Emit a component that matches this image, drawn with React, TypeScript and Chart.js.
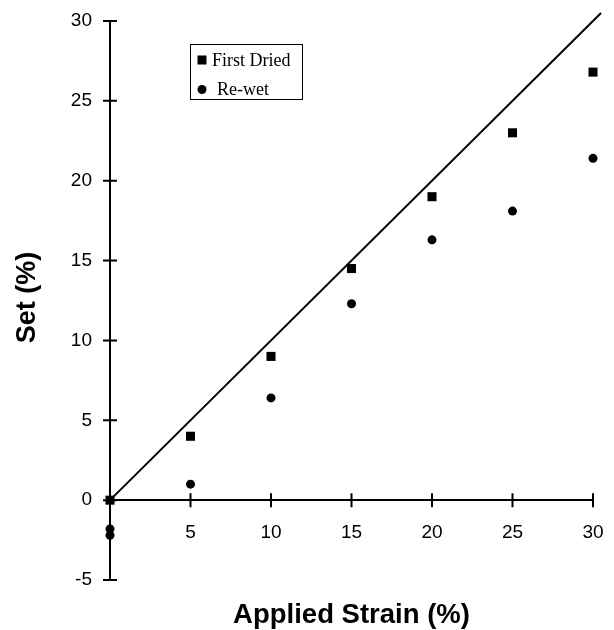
import React, { useEffect, useRef } from 'react';
import { Chart, registerables } from 'chart.js';

Chart.register(...registerables);

// ---- data ----
const strain = [0, 5, 10, 15, 20, 25, 30];
const firstDried = [0, 4.0, 9.0, 14.5, 19.0, 23.0, 26.8];
const reWetStrain = [0, 0, 5, 10, 15, 20, 25, 30];
const reWet = [-1.8, -2.2, 1.0, 6.4, 12.3, 16.3, 18.1, 21.4];
const lineStrain = [0, 30.5];
const lineSet = [0, 30.5];
const xTicks = [5, 10, 15, 20, 25, 30];
const yTicks = [-5, 0, 5, 10, 15, 20, 25, 30];
const seriesLabels = ['First Dried', 'Re-wet'];
const xTitle = 'Applied Strain (%)';
const yTitle = 'Set (%)';

const crossTicks = {
  id: 'crossTicks',
  beforeDatasetsDraw(chart: any) {
    const ctx = chart.ctx;
    const xs = chart.scales.x;
    const ys = chart.scales.y;
    const y0 = ys.getPixelForValue(0);
    const x0 = xs.getPixelForValue(0);
    ctx.save();
    ctx.strokeStyle = '#000';
    ctx.lineWidth = 2;
    ctx.beginPath();
    xs.ticks.forEach((t: any) => {
      const px = xs.getPixelForValue(t.value);
      ctx.moveTo(px, y0 - 7);
      ctx.lineTo(px, y0 + 7);
    });
    ys.ticks.forEach((t: any) => {
      const py = ys.getPixelForValue(t.value);
      ctx.moveTo(x0 - 7, py);
      ctx.lineTo(x0 + 7, py);
    });
    ctx.stroke();
    ctx.restore();
  },
};

const titles = {
  id: 'titles',
  afterDraw(chart: any) {
    const ctx = chart.ctx;
    const ca = chart.chartArea;
    ctx.save();
    ctx.fillStyle = '#000';
    ctx.textAlign = 'center';
    ctx.textBaseline = 'alphabetic';
    ctx.font = 'bold 27.5px "Liberation Sans", Arial, sans-serif';
    ctx.fillText(xTitle, (ca.left + ca.right) / 2, 623);
    ctx.font = 'bold 27px "Liberation Sans", Arial, sans-serif';
    ctx.translate(35, (ca.top + ca.bottom) / 2 - 3);
    ctx.rotate(-Math.PI / 2);
    ctx.fillText(yTitle, 0, 0);
    ctx.restore();
  },
};

const customLegend = {
  id: 'customLegend',
  afterDraw(chart: any) {
    const ctx = chart.ctx;
    const left = 190, top = 44, w = 112, h = 55;
    ctx.save();
    ctx.strokeStyle = '#000';
    ctx.lineWidth = 1;
    ctx.strokeRect(left + 0.5, top + 0.5, w, h);
    ctx.font = '18px "Liberation Serif", "Times New Roman", serif';
    ctx.fillStyle = '#000';
    ctx.textBaseline = 'alphabetic';
    ctx.textAlign = 'left';
    const ds = chart.data.datasets.filter((d: any) => seriesLabels.includes(d.label));
    ds.forEach((d: any, i: number) => {
      const cy = i === 0 ? 60 : 89.5;
      const base = i === 0 ? 65.5 : 94.5;
      const tx = i === 0 ? 212 : 217;
      ctx.beginPath();
      if (d.pointStyle === 'rect') {
        ctx.rect(202 - 4.5, cy - 4.5, 9, 9);
      } else {
        ctx.arc(202, cy, 4.5, 0, Math.PI * 2);
      }
      ctx.fill();
      ctx.fillText(d.label, tx, base);
    });
    ctx.restore();
  },
};

export default function App() {
  const ref = useRef<HTMLCanvasElement | null>(null);
  useEffect(() => {
    document.body.style.margin = '0';
    const canvas = ref.current;
    if (!canvas) return;
    const tickFont = { family: '"Liberation Sans", Arial, sans-serif', size: 19 };
    const chart = new Chart(canvas, {
      type: 'scatter',
      data: {
        datasets: [
          {
            label: 'identity',
            data: lineStrain.map((x, i) => ({ x, y: lineSet[i] })),
            showLine: true,
            borderColor: '#000',
            borderWidth: 2,
            pointRadius: 0,
            clip: false,
          } as any,
          {
            label: seriesLabels[0],
            data: strain.map((x, i) => ({ x, y: firstDried[i] })),
            pointStyle: 'rect',
            pointRadius: 6.4,
            backgroundColor: '#000',
            borderColor: '#000',
            borderWidth: 0,
            clip: false,
          },
          {
            label: seriesLabels[1],
            data: reWetStrain.map((x, i) => ({ x, y: reWet[i] })),
            pointStyle: 'circle',
            pointRadius: 4.5,
            backgroundColor: '#000',
            borderColor: '#000',
            borderWidth: 0,
            clip: false,
          },
        ],
      },
      options: {
        responsive: false,
        animation: false,
        events: [],
        layout: { padding: { left: 0, top: 21, right: 21, bottom: 50 } },
        plugins: { legend: { display: false }, tooltip: { enabled: false } },
        scales: {
          x: {
            type: 'linear',
            min: 0,
            max: 30,
            position: { y: 0 } as any,
            afterBuildTicks: (s: any) => {
              s.ticks = xTicks.map((v) => ({ value: v }));
            },
            grid: {
              display: true,
              drawOnChartArea: false,
              drawTicks: true,
              tickLength: 21,
              tickColor: 'rgba(0,0,0,0)',
            },
            border: { display: true, color: '#000', width: 2 },
            ticks: { color: '#000', font: tickFont, padding: 0, maxRotation: 0, autoSkip: false },
          },
          y: {
            type: 'linear',
            min: -5,
            max: 30,
            position: 'left',
            afterBuildTicks: (s: any) => {
              s.ticks = yTicks.map((v) => ({ value: v }));
            },
            afterFit: (s: any) => {
              s.width = 110;
            },
            grid: {
              display: true,
              drawOnChartArea: false,
              drawTicks: true,
              tickLength: 18,
              tickColor: 'rgba(0,0,0,0)',
            },
            border: { display: true, color: '#000', width: 2 },
            ticks: { color: '#000', font: tickFont, padding: 0, autoSkip: false },
          },
        },
      },
      plugins: [crossTicks, titles, customLegend],
    });
    return () => chart.destroy();
  }, []);
  return (
    <div style={{ width: 614, height: 630, background: '#fff' }}>
      <canvas ref={ref} width={614} height={630} style={{ display: 'block' }} />
    </div>
  );
}
